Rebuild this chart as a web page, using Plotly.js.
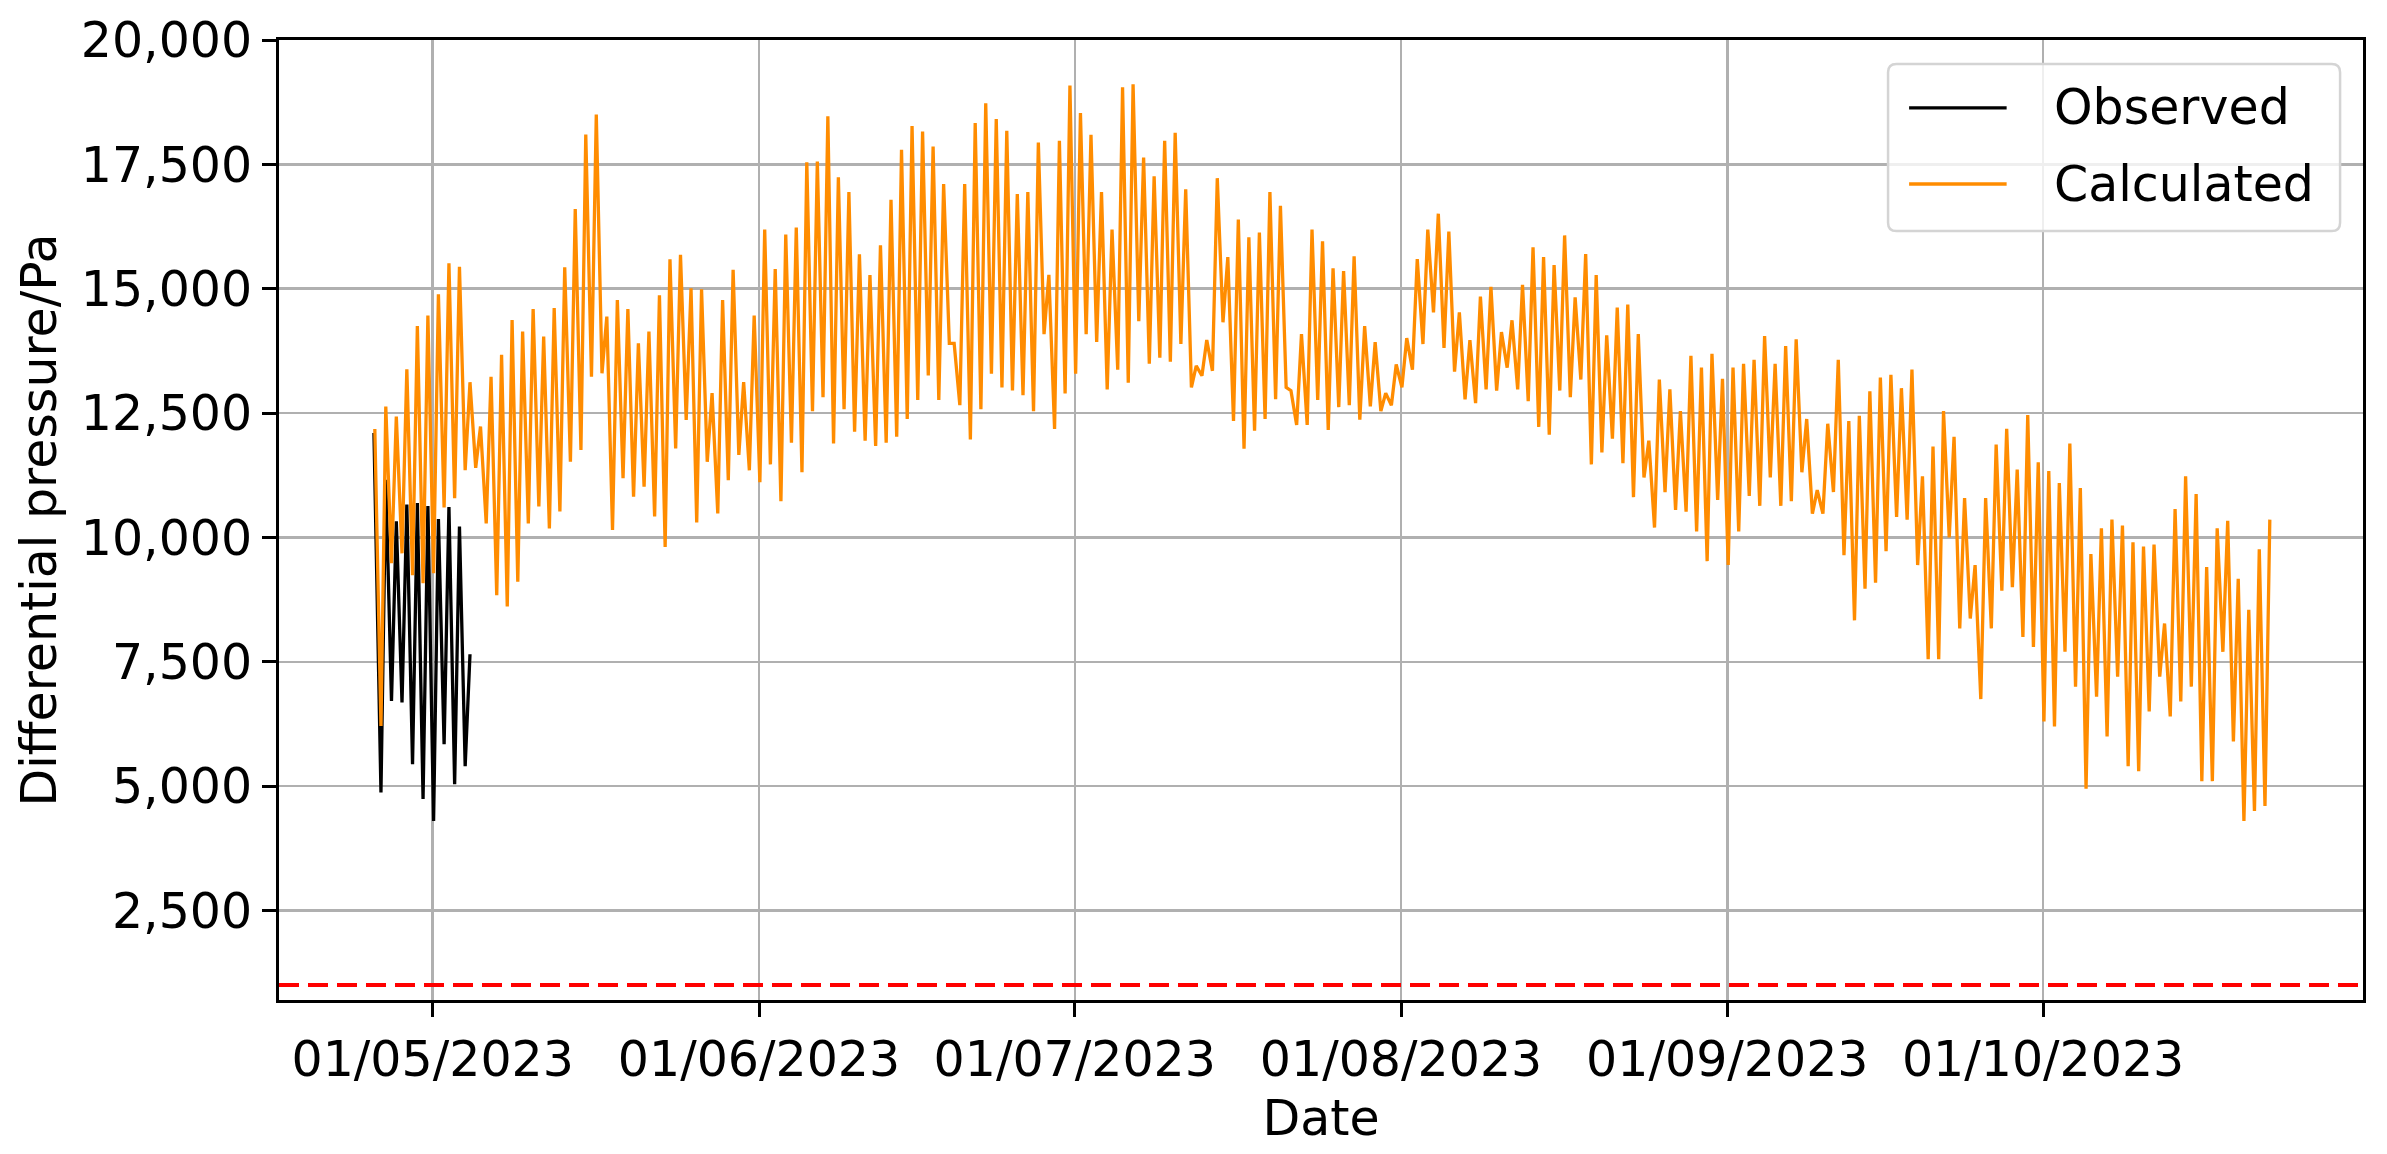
<!DOCTYPE html>
<html>
<head>
<meta charset="utf-8">
<script src="https://cdn.plot.ly/plotly-3.0.1.min.js"></script>
<style>
  html, body { margin: 0; padding: 0; background: #ffffff; }
  #chart { width: 2387px; height: 1154px; }
</style>
</head>
<body>
<div id="chart"></div>
<script>
// ---------------- data ----------------
// Observed differential pressure (Pa): first sample, then one night low (~02:00)
// and one afternoon high (~13:00) per day starting 26/04/2023.
const obsStartTime = '2023-04-25 10:00';
const obsStartValue = 12100;
const obsFirstDay = '2023-04-26';
const obsTrough = [4870, 6710, 6680, 5440, 4740, 4300, 5840, 5040, 5400];
const obsPeak   = [11160, 10325, 10660, 10690, 10630, 10370, 10610, 10220, 7650];

// Calculated differential pressure (Pa): first sample, then daily low / high from 26/04/2023 to 22/10/2023.
const calcStartTime = '2023-04-25 12:00';
const calcStartValue = 12180;
const calcFirstDay = '2023-04-26';
const calcTrough = [
  6210, 9480, 9680, 9240, 9080, 9280, 10600, 10790, 11350, 11400,
  10280, 8840, 8610, 9110, 10280, 10620, 10180, 10520, 11520, 11760,
  13230, 13300, 10150, 11190, 10820, 11020, 10420, 9810, 11790, 12360,
  10300, 11520, 10480, 11150, 11660,
  11349, 11111, 11468, 10730, 11904, 11309, 12539, 12817, 11888, 12579,
  12127, 11944, 11841, 11904, 12023, 12380, 12762, 13254, 12762, 13900,
  12658, 11968, 12579, 13293, 13016, 12952, 12857, 12539, 14087, 12182,
  12896, 13293, 14087, 13928, 12976, 13373, 13111, 14349, 13492, 13611,
  13532, 13889, 13016, 13250, 13349, 14325, 12341, 11785, 12143, 12380,
  12777, 13016, 12261, 12261, 12762, 12158, 12619, 12658, 12365, 12635,
  12539, 12658, 13016, 13373, 13888, 14524, 13809, 13333, 12777, 12698,
  12976, 12952, 13412, 12976, 12738, 12222, 12063, 12952, 12817, 13174,
  11468, 11706, 11984, 11492, 10809, 11206, 10198, 10912, 10555, 10516,
  10119, 9523, 10754, 9444, 10119, 10833, 10635, 11206, 10635, 10730,
  11309, 10476, 10476, 10912, 9642, 8333, 8968, 9087, 9722, 10412,
  10357, 9444,
  7550, 7550, 10000, 8170, 8370, 6750, 8170, 8930, 9000, 8000,
  7800, 6300, 6200, 7700, 7000, 4950, 6800, 6000, 7200, 5400,
  5300, 6500, 7200, 6400, 6700, 7000, 5100, 5100, 7700, 5900,
  4300, 4500, 4600
];
const calcPeak = [
  12630, 12430, 13380, 14250, 14460, 14890, 15510, 15440, 13120, 12230,
  13230, 13670, 14370, 14140, 14590, 14040, 14610, 15430, 16600, 18100,
  18500, 14440, 14770, 14590, 13900, 14140, 14870, 15590, 15680, 15010,
  14990, 12900, 14770, 15380, 13120,
  14460, 16190, 15397, 16087, 16230, 17540, 17555, 18468, 17238, 16944,
  15690, 15277, 15873, 16786, 17793, 18270, 18159, 17857, 17103, 13900,
  17103, 18333, 18730, 18413, 18175, 16905, 16944, 17937, 15277, 17976,
  19087, 18532, 18095, 16944, 16190, 19048, 19111, 17635, 17262, 17976,
  18135, 17000, 13450, 13970, 17222, 15635, 16389, 16032, 16127, 16944,
  16667, 12950, 14087, 16190, 15952, 15412, 15357, 15651, 14246, 13928,
  12900, 13476, 14008, 15595, 16190, 16508, 16151, 14524, 13968, 14841,
  15040, 14127, 14365, 15079, 15833, 15635, 15476, 16071, 14825, 15698,
  15277, 14063, 14619, 14682, 14087, 11944, 13174, 12976, 12540, 13650,
  13413, 13690, 13190, 13413, 13492, 13571, 14047, 13492, 13849, 13984,
  12381, 10950, 12285, 13571, 12341, 12444, 12936, 13214, 13269, 13000,
  13373, 11230, 11825, 12540, 12024, 10793, 9444, 10793, 11865, 12182,
  11365, 12460, 11508, 11333, 11095, 11889, 10992, 9666, 10182, 10357,
  10238, 9904, 9817, 9857, 8269, 10571, 11230, 10873, 9404, 10182,
  10333, 9166, 8547, 9761, 10357
];

const thresholdPa = 1000;
const troughHour = 2;
const peakHour = 13;

const seriesNames = ['Observed', 'Calculated'];
const seriesColors = ['#000000', '#ff8c00'];
const monthTicks = ['2023-05-01', '2023-06-01', '2023-07-01', '2023-08-01', '2023-09-01', '2023-10-01'];
const yTicks = [2500, 5000, 7500, 10000, 12500, 15000, 17500, 20000];
const xRange = ['2023-04-16 09:30', '2023-10-31 09:30'];
const yRange = [700, 20000];

// ---------------- build series ----------------
const DAY = 86400000, HOUR = 3600000;
function stamp(base, dayOffset, hour) {
  const t = Date.parse(base + 'T00:00:00Z') + dayOffset * DAY + hour * HOUR;
  return new Date(t).toISOString().slice(0, 16).replace('T', ' ');
}
function buildSeries(startTime, startValue, firstDay, lows, highs) {
  const x = [startTime], y = [startValue];
  const n = Math.max(lows.length, highs.length);
  for (let i = 0; i < n; i++) {
    if (i < lows.length)  { x.push(stamp(firstDay, i, troughHour)); y.push(lows[i]); }
    if (i < highs.length) { x.push(stamp(firstDay, i, peakHour));   y.push(highs[i]); }
  }
  return {x, y};
}
const obs = buildSeries(obsStartTime, obsStartValue, obsFirstDay, obsTrough, obsPeak);
const calc = buildSeries(calcStartTime, calcStartValue, calcFirstDay, calcTrough, calcPeak);

const FONT = 'DejaVu Sans, Liberation Sans, sans-serif';

const traces = [
  { type: 'scatter', mode: 'lines', name: seriesNames[0], x: obs.x, y: obs.y,
    line: { color: seriesColors[0], width: 3.3 }, showlegend: false },
  { type: 'scatter', mode: 'lines', name: seriesNames[1], x: calc.x, y: calc.y,
    line: { color: seriesColors[1], width: 3.3 }, showlegend: false }
];

// ---- legend box drawn as a matplotlib-style frame (paper coordinates) ----
const legBox = { x0: 0.7721, x1: 0.9890, y0: 0.8010, y1: 0.9750, rx: 0.0040, ry: 0.0087 };
const legLineX = [0.7822, 0.8290];
const legTextX = 0.8508;
const legRowY = [0.9292, 0.8500];

function roundedRectPath(b) {
  return 'M ' + (b.x0 + b.rx) + ' ' + b.y0 +
    ' L ' + (b.x1 - b.rx) + ' ' + b.y0 +
    ' Q ' + b.x1 + ' ' + b.y0 + ' ' + b.x1 + ' ' + (b.y0 + b.ry) +
    ' L ' + b.x1 + ' ' + (b.y1 - b.ry) +
    ' Q ' + b.x1 + ' ' + b.y1 + ' ' + (b.x1 - b.rx) + ' ' + b.y1 +
    ' L ' + (b.x0 + b.rx) + ' ' + b.y1 +
    ' Q ' + b.x0 + ' ' + b.y1 + ' ' + b.x0 + ' ' + (b.y1 - b.ry) +
    ' L ' + b.x0 + ' ' + (b.y0 + b.ry) +
    ' Q ' + b.x0 + ' ' + b.y0 + ' ' + (b.x0 + b.rx) + ' ' + b.y0 + ' Z';
}

const shapes = [
  { type: 'line', xref: 'paper', x0: 0, x1: 1, yref: 'y', y0: thresholdPa, y1: thresholdPa,
    line: { color: '#ff0000', width: 4, dash: '20px,9px' }, layer: 'above' },
  { type: 'path', xref: 'paper', yref: 'paper', path: roundedRectPath(legBox),
    fillcolor: 'rgba(255,255,255,0.8)', line: { color: '#d4d4d4', width: 2.5 }, layer: 'above' }
];
const annotations = [];
seriesNames.forEach((name, i) => {
  shapes.push({ type: 'line', xref: 'paper', yref: 'paper',
    x0: legLineX[0], x1: legLineX[1], y0: legRowY[i], y1: legRowY[i],
    line: { color: seriesColors[i], width: 3.3 }, layer: 'above' });
  annotations.push({ xref: 'paper', yref: 'paper', x: legTextX, y: legRowY[i],
    xanchor: 'left', yanchor: 'middle', showarrow: false, text: name,
    font: { family: FONT, size: 49, color: '#000000' } });
});

const layout = {
  width: 2387, height: 1154,
  margin: { l: 279, r: 24, t: 40, b: 154, pad: 0 },
  paper_bgcolor: '#ffffff', plot_bgcolor: '#ffffff',
  font: { family: FONT, size: 49, color: '#000000' },
  showlegend: false,
  xaxis: {
    type: 'date', range: xRange,
    tickvals: monthTicks, tickformat: '%d/%m/%Y',
    ticks: 'outside', ticklen: 14, tickwidth: 3, tickcolor: '#000000',
    showline: true, linecolor: '#000000', linewidth: 3, mirror: true,
    showgrid: true, gridcolor: '#b0b0b0', gridwidth: 2.5,
    zeroline: false,
    tickfont: { family: FONT, size: 49, color: '#000000' },
    title: { text: 'Date', font: { family: FONT, size: 49, color: '#000000' }, standoff: 14 },
    automargin: false
  },
  yaxis: {
    range: yRange, tickvals: yTicks, tickformat: ',d',
    ticks: 'outside', ticklen: 14, tickwidth: 3, tickcolor: '#000000',
    showline: true, linecolor: '#000000', linewidth: 3, mirror: true,
    showgrid: true, gridcolor: '#b0b0b0', gridwidth: 2.5,
    zeroline: false,
    tickfont: { family: FONT, size: 49, color: '#000000' },
    title: { text: 'Differential pressure/Pa', font: { family: FONT, size: 49, color: '#000000' }, standoff: 9 },
    automargin: false
  },
  shapes: shapes,
  annotations: annotations
};

Plotly.newPlot('chart', traces, layout, { displayModeBar: false, staticPlot: true });
</script>
</body>
</html>
